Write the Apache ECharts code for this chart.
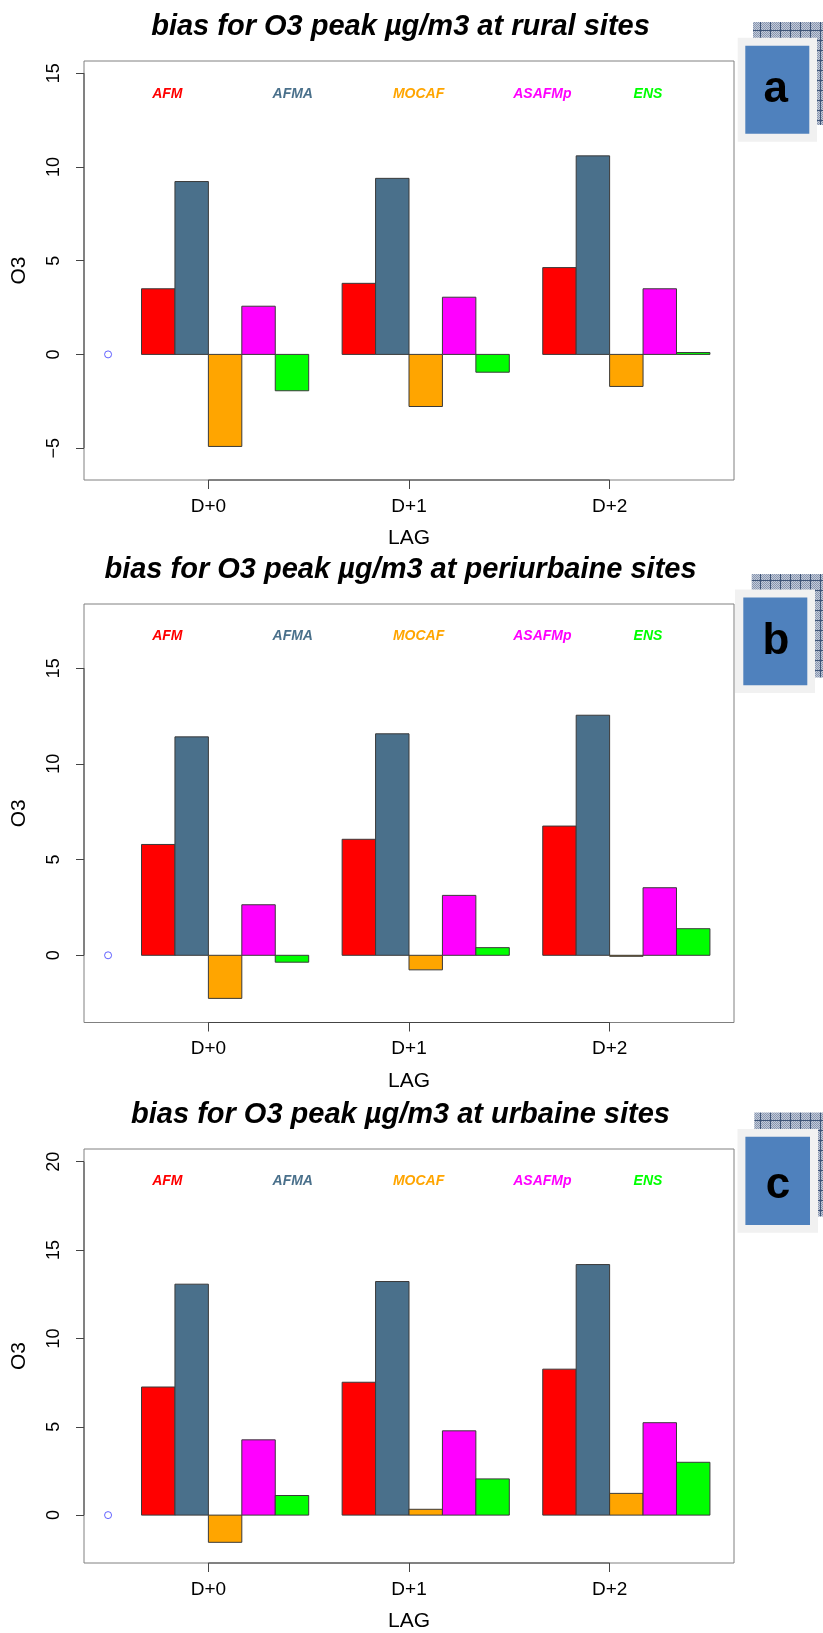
<!DOCTYPE html>
<html><head><meta charset="utf-8">
<script src="https://cdn.jsdelivr.net/npm/echarts@6/dist/echarts.min.js"></script>
<style>html,body{margin:0;padding:0;background:#fff}#c{width:823px;height:1633px}</style>
</head><body><div id="c"></div>
<script>
// ---- data ----
const lags = ['D+0', 'D+1', 'D+2'];
const models = ['AFM', 'AFMA', 'MOCAF', 'ASAFMp', 'ENS'];
const modelColors = ['#FF0000', '#4A708B', '#FFA500', '#FF00FF', '#00FF00'];
const titles = [
  'bias for O3 peak µg/m3 at rural sites',
  'bias for O3 peak µg/m3 at periurbaine sites',
  'bias for O3 peak µg/m3 at urbaine sites'
];
const panelLetters = ['a', 'b', 'c'];
const yTicksRural = [-5, 0, 5, 10, 15];
const yTicksPeri = [0, 5, 10, 15];
const yTicksUrban = [0, 5, 10, 15, 20];
// values per model, one entry per lag (D+0, D+1, D+2)
const rural = {
  AFM:    [3.50, 3.79, 4.63],
  AFMA:   [9.22, 9.39, 10.59],
  MOCAF:  [-4.91, -2.78, -1.71],
  ASAFMp: [2.57, 3.05, 3.50],
  ENS:    [-1.94, -0.95, 0.10]
};
const periurban = {
  AFM:    [5.79, 6.06, 6.75],
  AFMA:   [11.41, 11.57, 12.54],
  MOCAF:  [-2.25, -0.76, -0.04],
  ASAFMp: [2.64, 3.13, 3.53],
  ENS:    [-0.36, 0.40, 1.39]
};
const urban = {
  AFM:    [7.25, 7.52, 8.26],
  AFMA:   [13.07, 13.22, 14.18],
  MOCAF:  [-1.54, 0.33, 1.23],
  ASAFMp: [4.26, 4.77, 5.23],
  ENS:    [1.11, 2.05, 2.99]
};
const originPoint = [0, 0];

// ---- layout ----
const panels = [
  {data: rural, ticks: yTicksRural, yMin: -6.70, yMax: 15.65, top: 61, height: 419, titleTop: 7, legendY: 94, letterY: 89.7, letterX: 775.7,
   hatch: [753, 22, 72, 103], frame: [737.7, 37.7, 79.3, 104], blue: [745.3, 45.7, 64, 88]},
  {data: periurban, ticks: yTicksPeri, yMin: -3.51, yMax: 18.35, top: 604, height: 418.5, titleTop: 550.5, legendY: 636, letterY: 641.4, letterX: 776,
   hatch: [751.7, 574, 73, 103.4], frame: [735, 589.6, 80, 103.3], blue: [743.3, 597.5, 64, 87.8]},
  {data: urban, ticks: yTicksUrban, yMin: -2.71, yMax: 20.72, top: 1149, height: 415.5, titleTop: 1095, legendY: 1181, letterY: 1185.5, letterX: 778,
   hatch: [754.3, 1112.5, 70, 104], frame: [737.5, 1129, 80.5, 103.7], blue: [745.4, 1136.7, 64.6, 88.3]}
];
const X_MIN = -0.72, X_MAX = 18.72;
const FONT = '"Liberation Sans", Arial, Helvetica, sans-serif';
const lagTickPos = lags.map((_, i) => 3 + 6 * i);

// hatch pattern
const pc = document.createElement('canvas');
pc.width = 10; pc.height = 10;
const pctx = pc.getContext('2d');
pctx.fillStyle = '#c3cad8'; pctx.fillRect(0, 0, 10, 10);
pctx.fillStyle = '#8796b0';
for (let i = 0; i < 10; i++) for (let j = 0; j < 10; j++) if ((i + j) % 2 === 0) pctx.fillRect(i, j, 1, 1);
pctx.fillStyle = '#3f5578';
pctx.fillRect(0, 0, 10, 1); pctx.fillRect(0, 0, 1, 10);

const chart = echarts.init(document.getElementById('c'), null, {renderer: 'canvas'});

const grid = [], xAxis = [], yAxis = [], series = [], graphic = [], title = [];
panels.forEach((p, pi) => {
  grid.push({left: 84, width: 650, top: p.top, height: p.height, show: true, borderColor: '#808080', borderWidth: 1, backgroundColor: 'transparent'});
  xAxis.push({
    type: 'value', gridIndex: pi, min: X_MIN, max: X_MAX,
    axisLine: {show: false, onZero: false}, splitLine: {show: false},
    axisTick: {show: true, customValues: lagTickPos, length: 9, lineStyle: {color: '#444', width: 1}},
    axisLabel: {show: true, customValues: lagTickPos, formatter: v => lags[Math.round((v - 3) / 6)], margin: 17, fontSize: 19, color: '#000', fontFamily: FONT},
    name: 'LAG', nameLocation: 'middle', nameGap: 48, nameTextStyle: {fontSize: 21, color: '#000', fontFamily: FONT}
  });
  yAxis.push({
    type: 'value', gridIndex: pi, min: p.yMin, max: p.yMax,
    axisLine: {show: false, onZero: false}, splitLine: {show: false},
    axisTick: {show: true, customValues: p.ticks, length: 8, lineStyle: {color: '#444', width: 1}},
    axisLabel: {show: true, customValues: p.ticks, rotate: 90, margin: 21, fontSize: 18, color: '#000', fontFamily: FONT,
      formatter: v => String(v).replace('-', '\u2212')},
    name: 'O3', nameLocation: 'middle', nameRotate: 90, nameGap: 54, nameTextStyle: {fontSize: 21, color: '#000', fontFamily: FONT}
  });
  models.forEach((m, s) => {
    const color = modelColors[s];
    series.push({
      type: 'custom', name: m, xAxisIndex: pi, yAxisIndex: pi, silent: true, clip: false,
      data: p.data[m].map((v, g) => [1 + 6 * g + s, v]),
      encode: {x: 0, y: 1},
      renderItem: (params, api) => {
        const x = api.value(0), v = api.value(1);
        const a = api.coord([x, v]), b = api.coord([x + 1, 0]);
        return {type: 'rect', shape: {x: a[0], y: Math.min(a[1], b[1]), width: b[0] - a[0], height: Math.max(Math.abs(b[1] - a[1]), 1)},
                style: {fill: color, stroke: '#3a3a3a', lineWidth: 1}};
      }
    });
  });
  // axis lines spanning tick range (R style)
  series.push({
    type: 'custom', xAxisIndex: pi, yAxisIndex: pi, silent: true, clip: false,
    data: [[p.ticks[0], p.ticks[p.ticks.length - 1]]],
    encode: {x: [], y: [0, 1]},
    renderItem: (params, api) => {
      const a = api.coord([X_MIN, api.value(0)]), b = api.coord([X_MIN, api.value(1)]);
      const c = api.coord([lagTickPos[0], p.yMin]), d = api.coord([lagTickPos[lagTickPos.length - 1], p.yMin]);
      return {type: 'group', children: [
        {type: 'line', shape: {x1: a[0], y1: a[1], x2: b[0], y2: b[1]}, style: {stroke: '#444', lineWidth: 1}},
        {type: 'line', shape: {x1: c[0], y1: c[1], x2: d[0], y2: d[1]}, style: {stroke: '#444', lineWidth: 1}}
      ]};
    }
  });
  series.push({
    type: 'scatter', xAxisIndex: pi, yAxisIndex: pi, silent: true,
    data: [originPoint], symbol: 'circle', symbolSize: 7,
    itemStyle: {color: 'rgba(0,0,0,0)', borderColor: '#3b3bff', borderWidth: 1}
  });
  title.push({text: titles[pi], left: 395.5, textAlign: 'center', top: p.titleTop,
    textStyle: {fontSize: 29, fontWeight: 'bold', fontStyle: 'italic', color: '#000', fontFamily: FONT}});
  // legend texts
  models.forEach((m, s) => {
    graphic.push({type: 'text', x: 152.2 + 120.35 * s, y: p.legendY,
      style: {text: m, fill: modelColors[s], font: 'italic bold 14px ' + FONT, textAlign: 'left', verticalAlign: 'middle'}});
  });
  // panel letter decoration
  graphic.push({type: 'rect', shape: {x: p.hatch[0], y: p.hatch[1], width: p.hatch[2], height: p.hatch[3]}, style: {fill: {image: pc, repeat: 'repeat'}}, z: 10});
  graphic.push({type: 'rect', shape: {x: p.frame[0], y: p.frame[1], width: p.frame[2], height: p.frame[3]}, style: {fill: '#f1f1f1'}, z: 11});
  graphic.push({type: 'rect', shape: {x: p.blue[0], y: p.blue[1], width: p.blue[2], height: p.blue[3]}, style: {fill: '#4F81BD'}, z: 12});
  graphic.push({type: 'text', x: p.letterX, y: p.letterY, z: 13,
    style: {text: panelLetters[pi], fill: '#000', font: 'bold 44px ' + FONT, textAlign: 'center', verticalAlign: 'middle'}});
});

chart.setOption({animation: false, backgroundColor: '#fff', title, grid, xAxis, yAxis, series, graphic});
</script></body></html>
